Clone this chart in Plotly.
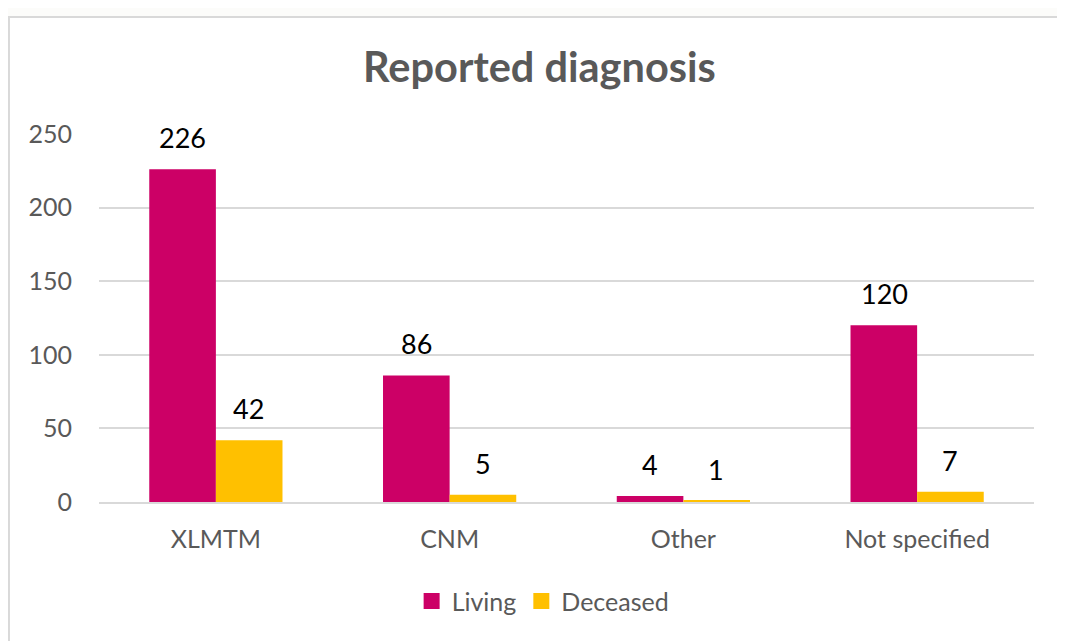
import plotly.graph_objects as go

categories = ["XLMTM", "CNM", "Other", "Not specified"]
living = [226, 86, 4, 120]
deceased = [42, 5, 1, 7]
series_names = ["Living", "Deceased"]
colors = ["#CC0066", "#FFC000"]
tick_vals = [0, 50, 100, 150, 200, 250]

FONT = "Lato, Open Sans, sans-serif"

fig = go.Figure()
for name, vals, col in zip(series_names, [living, deceased], colors):
    fig.add_trace(go.Bar(name=name, x=categories, y=vals, marker=dict(color=col, line=dict(width=0)),
                         legendgroup=name, showlegend=False))
# legend entries with larger square symbols
for name, col in zip(series_names, colors):
    fig.add_trace(go.Scatter(name=name, x=[None], y=[None], mode="markers", legendgroup=name,
                             marker=dict(symbol="square", size=16, color=col)))

# data labels
for vals, shift in [(living, -33), (deceased, 33)]:
    for c, v in zip(categories, vals):
        fig.add_annotation(x=c, y=v, xref="x", yref="y", text=str(v), showarrow=False,
                           xshift=shift, yanchor="bottom", yshift=13,
                           font=dict(family=FONT, size=27, color="#000000"))

fig.add_shape(type="rect", xref="paper", yref="paper", x0=-0.0963, x1=1.2, y0=-0.6, y1=1.318,
              line=dict(color="#D9D9D9", width=2), fillcolor="#FFFFFF", layer="below")

fig.update_layout(
    width=1065, height=641,
    margin=dict(l=91, r=39, t=126, b=147),
    paper_bgcolor="#FCFCFA", plot_bgcolor="rgba(0,0,0,0)",
    barmode="group", bargap=0.43, bargroupgap=0,
    title=dict(text="<b>Reported diagnosis</b>", x=0.499, xanchor="center", y=0.907, yanchor="middle",
               font=dict(family=FONT, size=41.5, color="#595959")),
    font=dict(family=FONT, color="#595959"),
    showlegend=True,
    legend=dict(orientation="h", x=0.475, xanchor="center", y=-0.27, yanchor="middle",
                font=dict(family=FONT, size=25, color="#595959"), itemwidth=30,
                bgcolor="rgba(0,0,0,0)"),
    xaxis=dict(showgrid=False, showline=True, linecolor="#D9D9D9", linewidth=2,
               ticks="", tickfont=dict(family=FONT, size=25, color="#595959"),
               ticklabelstandoff=14),
    yaxis=dict(range=[0, 250], tickvals=tick_vals, showgrid=True, gridcolor="#D9D9D9", gridwidth=1.5,
               zeroline=False, showline=False, ticks="",
               tickfont=dict(family=FONT, size=25, color="#595959"), ticklabelstandoff=26),
)

fig.write_html("out.html")
